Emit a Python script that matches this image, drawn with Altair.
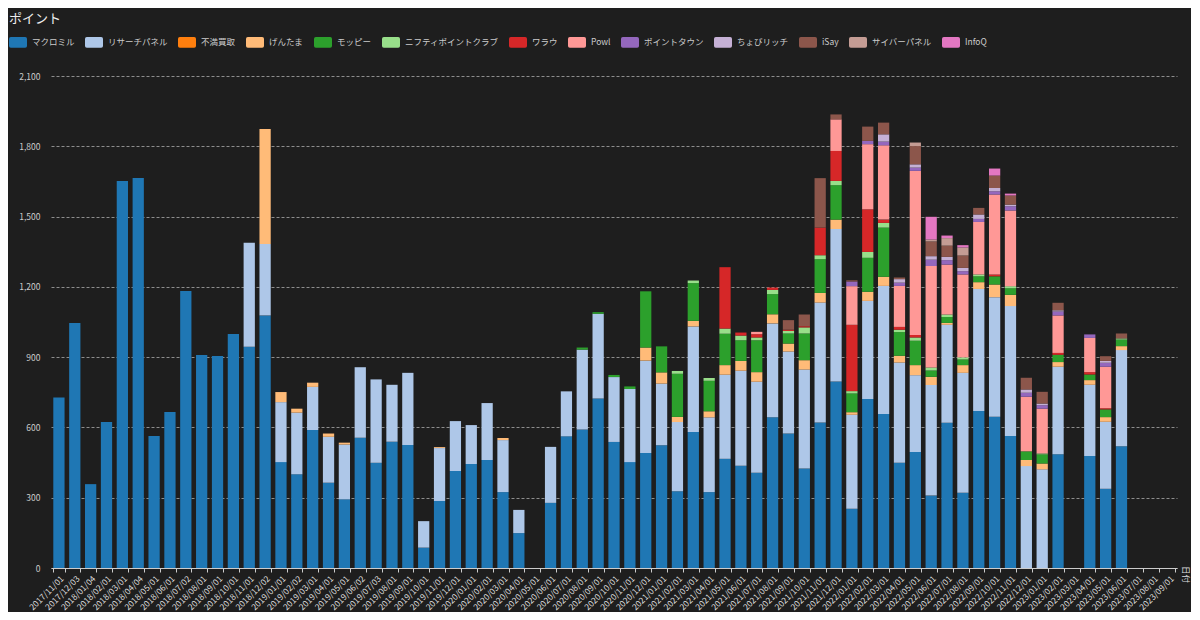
import altair as alt
import pandas as pd

dates = [
    "2017/11/01", "2017/12/03", "2018/01/04", "2018/02/01", "2018/03/01", "2018/04/04",
    "2018/05/01", "2018/06/01", "2018/07/02", "2018/08/01", "2018/09/01", "2018/10/01",
    "2018/11/01", "2018/12/02", "2019/01/01", "2019/02/02", "2019/03/01", "2019/04/01",
    "2019/05/01", "2019/06/02", "2019/07/03", "2019/08/01", "2019/09/01", "2019/10/01",
    "2019/11/01", "2019/12/01", "2020/01/01", "2020/02/01", "2020/03/01", "2020/04/01",
    "2020/05/01", "2020/06/01", "2020/07/01", "2020/08/01", "2020/09/01", "2020/10/01",
    "2020/11/01", "2020/12/01", "2021/01/01", "2021/02/01", "2021/03/01", "2021/04/01",
    "2021/05/01", "2021/06/01", "2021/07/01", "2021/08/01", "2021/09/01", "2021/10/01",
    "2021/11/01", "2021/12/01", "2022/01/01", "2022/02/01", "2022/03/01", "2022/04/01",
    "2022/05/01", "2022/06/01", "2022/07/01", "2022/08/01", "2022/09/01", "2022/10/01",
    "2022/11/01", "2022/12/01", "2023/01/01", "2023/02/01", "2023/03/01", "2023/04/01",
    "2023/05/01", "2023/06/01", "2023/07/01", "2023/08/01", "2023/09/01",
]

series = ["マクロミル", "リサーチパネル", "不満買取", "げんたま", "モッピー", "ニフティポイントクラブ",
          "ワラウ", "Powl", "ポイントタウン", "ちょびリッチ", "iSay", "サイバーパネル", "InfoQ"]
colors = ["#1f77b4", "#aec7e8", "#ff7f0e", "#ffbb78", "#2ca02c", "#98df8a",
          "#d62728", "#ff9896", "#9467bd", "#c5b0d5", "#8c564b", "#c49c94", "#e377c2"]

y_ticks = [0, 300, 600, 900, 1200, 1500, 1800, 2100]

# values aligned with `dates`
macromill = [
    728, 1046, 358, 623, 1652, 1665, 563, 666, 1182, 909,
    905, 999, 944, 1078, 452, 400, 589, 364, 293, 556,
    449, 539, 525, 87, 286, 414, 444, 461, 324, 149,
    0, 278, 562, 591, 724, 538, 452, 491, 524, 328,
    581, 324, 466, 436, 407, 643, 574, 425, 621, 796,
    253, 721, 657, 449, 495, 309, 620, 321, 670, 646,
    563, 0, 0, 486, 0, 478, 338, 520, 0, 0,
    0,
]
research = [
    0, 0, 0, 0, 0, 0, 0, 0, 0, 0,
    0, 0, 444, 305, 256, 263, 184, 196, 234, 301,
    356, 243, 308, 113, 226, 213, 166, 243, 222, 99,
    0, 239, 192, 341, 361, 277, 312, 394, 263, 295,
    450, 319, 359, 406, 388, 401, 350, 422, 512, 651,
    401, 419, 547, 428, 328, 472, 418, 512, 521, 510,
    555, 435, 421, 373, 0, 304, 286, 410, 0, 0,
    0,
]

# sparse series: date -> value
fuman = {}
gentama = {"2018/12/02": 491, "2019/01/01": 43, "2019/02/02": 17, "2019/03/01": 18, "2019/04/01": 14,
           "2019/05/01": 8, "2019/11/01": 4, "2020/03/01": 9, "2020/12/01": 56, "2021/01/01": 48,
           "2021/02/01": 22, "2021/03/01": 24, "2021/04/01": 26, "2021/05/01": 41, "2021/06/01": 42,
           "2021/07/01": 41, "2021/08/01": 39, "2021/09/01": 34, "2021/10/01": 40, "2021/11/01": 41,
           "2021/12/01": 40, "2022/01/01": 11, "2022/02/01": 39, "2022/03/01": 39, "2022/04/01": 29,
           "2022/05/01": 43, "2022/06/01": 35, "2022/07/01": 8, "2022/08/01": 33, "2022/09/01": 29,
           "2022/10/01": 54, "2022/11/01": 48, "2022/12/01": 26, "2023/01/01": 25, "2023/02/01": 20,
           "2023/04/01": 20, "2023/05/01": 20, "2023/06/01": 17}
moppy = {"2020/08/01": 9, "2020/09/01": 7, "2020/10/01": 9, "2020/11/01": 11, "2020/12/01": 240,
         "2021/01/01": 111, "2021/02/01": 184, "2021/03/01": 161, "2021/04/01": 130, "2021/05/01": 134,
         "2021/06/01": 88, "2021/07/01": 136, "2021/08/01": 86, "2021/09/01": 43, "2021/10/01": 114,
         "2021/11/01": 144, "2021/12/01": 147, "2022/01/01": 80, "2022/02/01": 145, "2022/03/01": 210,
         "2022/04/01": 101, "2022/05/01": 104, "2022/06/01": 27, "2022/07/01": 25, "2022/08/01": 24,
         "2022/09/01": 25, "2022/10/01": 35, "2022/11/01": 28, "2022/12/01": 37, "2023/01/01": 39,
         "2023/02/01": 31, "2023/04/01": 24, "2023/05/01": 33, "2023/06/01": 28}
nifty = {"2021/02/01": 12, "2021/03/01": 11, "2021/04/01": 12, "2021/05/01": 22, "2021/06/01": 20,
         "2021/07/01": 12, "2021/08/01": 18, "2021/09/01": 11, "2021/10/01": 26, "2021/11/01": 17,
         "2021/12/01": 18, "2022/01/01": 10, "2022/02/01": 25, "2022/03/01": 20, "2022/04/01": 10,
         "2022/05/01": 14, "2022/06/01": 13, "2022/07/01": 11, "2022/08/01": 9, "2022/09/01": 8,
         "2022/11/01": 9, "2023/01/01": 4, "2023/06/01": 5}
warau = {"2021/05/01": 262, "2021/06/01": 13, "2021/07/01": 14, "2021/08/01": 10, "2021/09/01": 5,
         "2021/10/01": 5, "2021/11/01": 118, "2021/12/01": 128, "2022/01/01": 283, "2022/02/01": 182,
         "2022/03/01": 14, "2022/04/01": 12, "2022/05/01": 11, "2022/10/01": 8, "2023/02/01": 8,
         "2023/04/01": 10, "2023/05/01": 5}
powl = {"2021/07/01": 10, "2021/12/01": 135, "2022/01/01": 165, "2022/02/01": 278, "2022/03/01": 317,
        "2022/04/01": 175, "2022/05/01": 700, "2022/06/01": 433, "2022/07/01": 213, "2022/08/01": 354,
        "2022/09/01": 224, "2022/10/01": 341, "2022/11/01": 323, "2022/12/01": 233, "2023/01/01": 191,
        "2023/02/01": 160, "2023/04/01": 146, "2023/05/01": 177}
ptown = {"2022/01/01": 20, "2022/02/01": 14, "2022/03/01": 16, "2022/04/01": 14, "2022/05/01": 14,
         "2022/06/01": 27, "2022/07/01": 19, "2022/08/01": 14, "2022/09/01": 13, "2022/10/01": 14,
         "2022/11/01": 18, "2022/12/01": 17, "2023/01/01": 15, "2023/02/01": 17, "2023/04/01": 15,
         "2023/05/01": 17}
chobi = {"2022/03/01": 31, "2022/04/01": 15, "2022/05/01": 14, "2022/06/01": 15, "2022/07/01": 14,
         "2022/08/01": 14, "2022/09/01": 19, "2022/10/01": 14, "2022/11/01": 7, "2022/12/01": 14,
         "2023/01/01": 7, "2023/02/01": 5, "2023/05/01": 8}
isay = {"2021/09/01": 41, "2021/10/01": 50, "2021/11/01": 211, "2021/12/01": 21, "2022/01/01": 5,
        "2022/02/01": 61, "2022/03/01": 50, "2022/04/01": 7, "2022/05/01": 78, "2022/06/01": 63,
        "2022/07/01": 48, "2022/08/01": 53, "2022/09/01": 28, "2022/10/01": 53, "2022/11/01": 39,
        "2022/12/01": 50, "2023/01/01": 50, "2023/02/01": 32, "2023/05/01": 20, "2023/06/01": 21}
cyber = {"2022/05/01": 15, "2022/06/01": 8, "2022/07/01": 32, "2022/08/01": 34}
infoq = {"2022/06/01": 97, "2022/07/01": 11, "2022/08/01": 10, "2022/10/01": 30, "2022/11/01": 8}

sparse = [fuman, gentama, moppy, nifty, warau, powl, ptown, chobi, isay, cyber, infoq]

rows = []
for d, v in zip(dates, macromill):
    if v > 0:
        rows.append({"date": d, "series": series[0], "sidx": 0, "value": v})
for d, v in zip(dates, research):
    if v > 0:
        rows.append({"date": d, "series": series[1], "sidx": 1, "value": v})
for k, s in enumerate(sparse):
    for d, v in s.items():
        rows.append({"date": d, "series": series[k + 2], "sidx": k + 2, "value": v})
df = pd.DataFrame(rows)

FONT = "Noto Sans CJK JP"
rrect = ("M-0.8,-0.6H0.8Q1,-0.6 1,-0.4V0.4Q1,0.6 0.8,0.6H-0.8Q-1,0.6 -1,0.4V-0.4Q-1,-0.6 -0.8,-0.6Z")

chart = alt.Chart(df).mark_bar().encode(
    x=alt.X("date:N", title="日付",
            scale=alt.Scale(domain=dates, paddingInner=0.29, paddingOuter=0.145),
            axis=alt.Axis(labelAngle=-45, labelFontSize=8.5, labelColor="#dddddd",
                          labelOverlap=False, labelPadding=2, tickBand="extent",
                          tickColor="#cccccc", tickSize=4, domainColor="#cccccc",
                          grid=False, titleAngle=90, titleX=1134, titleY=6,
                          titleAlign="center", titleBaseline="middle",
                          titleFontSize=8.5, titleColor="#dddddd", titleFontWeight="normal")),
    y=alt.Y("value:Q", stack="zero", title=None,
            scale=alt.Scale(domain=[0, 2100], nice=False),
            axis=alt.Axis(values=y_ticks, format=",.0f",
                          labelFontSize=8.5, labelColor="#cccccc", labelPadding=11,
                          domain=False, ticks=False, grid=True, gridColor="#aaaaaa",
                          gridDash=[3, 2], gridWidth=0.8)),
    color=alt.Color("series:N", scale=alt.Scale(domain=series, range=colors),
                    legend=alt.Legend(orient="none", legendX=-42, legendY=-43,
                                      direction="horizontal", title=None,
                                      symbolType=rrect, symbolSize=324, symbolStrokeWidth=0,
                                      symbolOpacity=1, labelFontSize=8.5, labelColor="#cccccc",
                                      labelOffset=5, columnPadding=10, labelLimit=200, padding=0)),
    order=alt.Order("sidx:Q", sort="ascending"),
).properties(
    width=1126, height=492,
    title=alt.TitleParams("ポイント", anchor="start", frame="group", dx=-42, offset=7,
                          fontSize=13, color="#eeeeee", fontWeight="normal", font=FONT),
    autosize=alt.AutoSizeParams(type="none"),
    padding={"left": 43, "top": 68, "right": 14, "bottom": 44},
).configure(
    background="#1e1e1e", font=FONT,
).configure_view(stroke=None)

chart.save("out.html", embed_options={"renderer": "svg", "actions": False})
